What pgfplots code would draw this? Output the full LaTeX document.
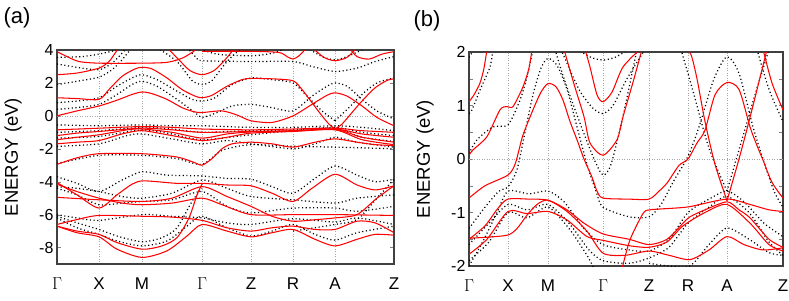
\documentclass[border=0pt]{standalone}
\usepackage{fontspec}
\setmainfont{Liberation Sans}
\usepackage{pgfplots}
\pgfplotsset{compat=1.18}
\pgfplotsset{
  bandr/.style={red, line width=1.05pt, smooth, tension=0.45, no markers},
  bandk/.style={black, line width=1.25pt, dash pattern=on 1.1pt off 2.6pt, smooth, tension=0.45, no markers},
  bandaxis/.style={
    anchor=south west, scale only axis, height=214pt,
    axis line style={black!75, line width=1.1pt},
    tick align=inside, major tick length=4pt,
    major x tick style={draw=none},
    xmajorgrids, grid style={gray!70, line width=0.5pt, dotted},
    extra y ticks={0}, extra y tick labels={},
    extra y tick style={grid=major, major tick length=0pt},
    /pgf/number format/assume math mode=true,
    yticklabel style={font=\fontsize{16}{18}\selectfont},
    xticklabel style={font=\fontsize{17}{19}\selectfont, yshift=-10pt},
    label style={font=\fontsize{18.5}{20}\selectfont},
    ylabel={ENERGY (eV)},
  }
}
\begin{document}
\begin{tikzpicture}
\useasboundingbox (0pt,0pt) rectangle (789pt,300pt);
\node[font=\fontsize{22}{24}\selectfont] at (17pt,282pt) {(a)};
\node[font=\fontsize{22}{24}\selectfont] at (427pt,279pt) {(b)};
% ---------------- panel (a) ----------------
\begin{axis}[bandaxis, at={(57pt,36pt)}, width=337pt,
  xmin=0, xmax=337, ymin=-9, ymax=4,
  xtick={0,42,85,145,194,236,278,337},
  xticklabels={$\Gamma$,X,M,$\Gamma$,Z,R,A,Z},
  ytick={-8,-6,-4,-2,0,2,4},
  ylabel style={at={(axis description cs:-0.13,0.5)}, anchor=center},
]
% dotted (black) bands
\addplot[bandk] coordinates {(0,3.55)(25,3.6)(42,3.75)(60,4.0)(70,4.15)};
\addplot[bandk] coordinates {(0,3.15)(20,2.95)(42,2.8)(55,3.2)(65,3.8)(70,4.15)};
\addplot[bandk] coordinates {(0,1.9)(20,2.1)(42,2.35)(55,2.8)(65,3.4)(75,4.15)};
\addplot[bandk] coordinates {(0,0.8)(20,0.9)(42,1.1)(60,1.8)(75,2.3)(85,2.5)(100,2.2)(120,1.5)(135,1.0)(145,0.9)(158,1.1)(175,1.9)(194,2.3)(215,2.2)(236,2.0)(250,1.2)(265,0.3)(278,-0.3)};
\addplot[bandk] coordinates {(278,-0.3)(292,0.5)(305,1.3)(320,2.0)(337,2.3)};
\addplot[bandk] coordinates {(0,0.4)(20,0.5)(42,0.7)(60,1.3)(75,1.9)(85,2.1)(100,1.8)(120,1.0)(138,0.2)(145,-0.1)(160,0.2)(175,0.6)(194,0.7)(215,0.5)(236,0.3)(255,1.2)(270,1.8)(278,2.0)(290,1.8)(305,1.0)(320,0.3)(337,-0.2)};
\addplot[bandk] coordinates {(130,4.15)(140,3.5)(145,3.35)(194,3.3)(236,3.3)(255,3.0)(278,2.7)(300,2.9)(318,3.3)(337,3.6)};
\addplot[bandk] coordinates {(100,4.15)(120,3.3)(135,2.15)(145,1.9)(155,2.15)(170,3.3)(185,4.15)};
\addplot[bandk] coordinates {(140,4.15)(160,3.75)(194,3.65)(215,3.8)(230,4.15)};
\addplot[bandk] coordinates {(250,4.15)(265,3.6)(278,3.4)(290,3.6)(310,4.15)};
\addplot[bandk] coordinates {(0,-0.55)(42,-0.6)(85,-0.55)(115,-0.6)(145,-0.6)(194,-0.7)(236,-0.7)(278,-0.6)(305,-0.7)(337,-0.9)};
\addplot[bandk] coordinates {(0,-1.0)(42,-0.9)(85,-0.7)(115,-0.8)(145,-1.0)(194,-0.9)(236,-0.85)(278,-0.7)(305,-1.0)(337,-1.2)};
\addplot[bandk] coordinates {(0,-1.35)(42,-1.25)(85,-0.85)(115,-1.1)(145,-1.45)(194,-1.15)(236,-0.9)(278,-0.75)(305,-1.3)(337,-1.55)};
\addplot[bandk] coordinates {(0,-1.85)(42,-1.7)(70,-1.2)(85,-1.1)(115,-1.4)(145,-1.7)(170,-1.5)(194,-1.7)(236,-2.0)(258,-1.7)(278,-1.3)(300,-1.6)(337,-1.9)};
\addplot[bandk] coordinates {(0,-2.9)(42,-2.4)(85,-2.4)(120,-2.6)(145,-2.95)(165,-2.1)(194,-1.75)(236,-1.85)(278,-1.9)(337,-2.0)};
\addplot[bandk] coordinates {(0,-3.7)(20,-4.1)(42,-4.6)(65,-3.9)(85,-3.4)(110,-3.6)(145,-3.65)(170,-3.8)(194,-3.85)(215,-4.3)(236,-4.7)(258,-3.8)(278,-3.05)(300,-3.6)(318,-4.0)(337,-3.85)};
\addplot[bandk] coordinates {(0,-4.3)(20,-4.4)(42,-4.6)(65,-4.9)(85,-5.0)(115,-4.7)(145,-3.9)(170,-4.4)(194,-4.9)(236,-5.1)(278,-5.3)(300,-5.0)(337,-4.8)};
\addplot[bandk] coordinates {(0,-4.4)(20,-4.8)(42,-5.4)(65,-5.3)(85,-5.2)(115,-5.1)(145,-4.6)(170,-5.5)(194,-5.9)(236,-5.6)(278,-5.6)(300,-5.8)(337,-5.5)};
\addplot[bandk] coordinates {(0,-6.0)(20,-6.2)(42,-6.35)(85,-6.0)(115,-6.1)(145,-6.2)(170,-6.5)(194,-6.6)(236,-6.25)(278,-6.45)(300,-6.2)(337,-6.6)};
\addplot[bandk] coordinates {(0,-6.1)(20,-6.5)(42,-6.9)(60,-7.3)(85,-7.65)(105,-7.4)(120,-6.8)(135,-5.2)(145,-4.4)};
\addplot[bandk] coordinates {(0,-6.2)(20,-6.8)(42,-7.2)(60,-7.6)(85,-7.9)(110,-7.6)(130,-6.7)(145,-6.1)(170,-6.8)(194,-7.3)(215,-7.0)(236,-6.6)(258,-7.2)(278,-7.55)(300,-7.1)(337,-6.7)};
\addplot[bandk] coordinates {(236,-7.0)(278,-6.6)(300,-6.3)(320,-5.0)(337,-3.85)};
% red bands
\addplot[bandr] coordinates {(0,3.9)(10,3.6)(22,3.3)(42,3.2)(85,3.2)(110,3.25)(125,3.5)(135,3.85)(142,4.15)};
\addplot[bandr] coordinates {(145,3.92)(194,3.92)(222,3.85)(230,3.6)(236,3.45)(242,3.65)(250,4.15)};
\addplot[bandr] coordinates {(0,2.5)(20,2.6)(42,2.9)(52,3.3)(58,3.8)(62,4.15)};
\addplot[bandr] coordinates {(110,4.15)(122,3.4)(133,2.75)(145,2.5)(157,2.75)(168,3.4)(178,4.15)};
\addplot[bandr] coordinates {(0,1.1)(20,1.05)(42,1.0)(52,1.6)(65,2.4)(78,2.85)(85,2.95)(95,2.85)(110,2.3)(125,1.6)(138,1.2)(145,1.1)(155,1.25)(170,1.8)(185,2.2)(194,2.27)(215,2.25)(236,2.13)(245,1.6)(255,0.8)(265,0.0)(272,-0.5)(278,-0.8)};
\addplot[bandr] coordinates {(278,-0.8)(285,-0.5)(295,0.2)(305,0.9)(318,1.7)(330,2.15)(337,2.25)};
\addplot[bandr] coordinates {(0,0.0)(20,0.3)(42,0.6)(60,0.95)(75,1.3)(85,1.45)(95,1.35)(110,1.0)(125,0.5)(137,0.25)(145,0.2)(165,0.3)(180,0.05)(194,-0.3)(215,-0.4)(236,0.0)(255,0.7)(270,1.25)(278,1.4)(290,1.2)(305,0.6)(320,-0.1)(337,-0.6)};
\addplot[bandr] coordinates {(255,4.15)(267,3.55)(278,3.35)(290,3.55)(300,4.15)};
\addplot[bandr] coordinates {(292,4.15)(300,3.6)(312,3.45)(325,3.75)(337,3.9)};
\addplot[bandr] coordinates {(0,-0.85)(42,-0.75)(85,-0.65)(115,-0.7)(145,-0.8)(194,-0.85)(236,-0.8)(278,-0.75)(305,-0.9)(337,-1.0)};
\addplot[bandr] coordinates {(0,-1.2)(20,-1.05)(42,-0.95)(85,-0.75)(115,-0.85)(145,-1.0)(194,-0.95)(236,-0.9)(278,-0.8)(305,-1.1)(337,-1.3)};
\addplot[bandr] coordinates {(0,-1.45)(20,-1.3)(42,-1.15)(70,-0.85)(85,-0.8)(115,-1.0)(145,-1.35)(170,-1.1)(194,-0.98)(236,-0.92)(278,-0.82)(305,-1.3)(337,-1.6)};
\addplot[bandr] coordinates {(0,-1.7)(20,-1.6)(42,-1.5)(65,-1.1)(85,-0.9)(115,-1.2)(145,-1.5)(170,-1.3)(194,-1.05)(236,-0.95)(278,-0.85)(305,-1.45)(337,-1.75)};
\addplot[bandr] coordinates {(0,-2.95)(20,-2.55)(42,-2.3)(85,-2.3)(120,-2.5)(138,-2.85)(145,-3.0)(155,-2.6)(165,-2.0)(175,-1.7)(194,-1.6)(215,-1.7)(236,-1.9)(258,-1.6)(278,-1.4)(300,-1.6)(318,-1.75)(337,-1.8)};
\addplot[bandr] coordinates {(0,-4.05)(20,-4.8)(42,-5.6)(60,-4.8)(75,-4.15)(85,-3.95)(100,-4.0)(120,-4.1)(145,-4.1)(170,-4.2)(194,-4.25)(215,-4.7)(236,-5.2)(255,-4.4)(278,-3.55)(300,-4.2)(318,-4.5)(337,-4.25)};
\addplot[bandr] coordinates {(0,-4.15)(20,-4.6)(42,-5.0)(65,-5.3)(85,-5.4)(115,-5.3)(145,-5.0)(165,-5.4)(194,-6.0)(236,-6.0)(278,-6.0)(337,-6.05)};
\addplot[bandr] coordinates {(0,-4.95)(42,-5.1)(85,-5.2)(115,-5.0)(145,-4.3)(170,-4.9)(194,-5.5)(215,-6.1)(236,-6.4)(260,-6.3)(278,-6.2)(300,-6.0)(320,-5.0)(337,-4.25)};
\addplot[bandr] coordinates {(0,-6.6)(20,-6.3)(42,-6.05)(85,-6.1)(115,-6.15)(145,-6.35)(170,-6.8)(194,-7.0)(215,-6.8)(236,-6.7)(258,-6.9)(278,-6.9)(300,-6.4)(318,-6.5)(337,-7.1)};
\addplot[bandr] coordinates {(0,-6.7)(20,-7.0)(42,-7.2)(60,-7.7)(85,-8.1)(105,-7.9)(120,-7.4)(132,-6.2)(140,-4.8)(145,-4.15)};
\addplot[bandr] coordinates {(0,-6.7)(20,-7.1)(42,-7.35)(60,-8.1)(85,-8.6)(110,-8.2)(130,-7.3)(145,-6.6)(170,-7.0)(194,-7.35)(215,-7.1)(236,-6.9)(258,-7.5)(278,-7.9)(300,-7.5)(318,-7.2)(337,-7.25)};
\end{axis}
% ---------------- panel (b) ----------------
\begin{axis}[bandaxis, at={(469pt,34pt)}, width=314pt,
  xmin=0, xmax=314, ymin=-2, ymax=2,
  xtick={0,39,79,134,180,219,258,314},
  xticklabels={$\Gamma$,X,M,$\Gamma$,Z,R,A,Z},
  ytick={-2,-1.5,-1,-0.5,0,0.5,1,1.5,2},
  yticklabels={-2,,-1,,0,,1,,2},
  ylabel style={at={(axis description cs:-0.14,0.5)}, anchor=center},
]
% dotted
\addplot[bandk] coordinates {(0,1.9)(5,2.05)};
\addplot[bandk] coordinates {(0,0.85)(3,0.92)(11,1.29)(21,1.72)(24,2.05)};
\addplot[bandk] coordinates {(0,0.1)(8,0.36)(24,0.6)(39,0.64)(51,1.1)(58,1.54)(64,2.05)};
\addplot[bandk] coordinates {(0,-1.3)(16,-0.9)(30,-0.6)(39,-0.52)(48,-0.2)(56,0.5)(64,1.2)(72,1.7)(79,1.88)(88,1.75)(98,1.3)(108,0.6)(118,-0.1)(127,-0.6)(134,-0.9)(160,-1.08)(180,-1.08)(192,-0.85)(205,-0.4)(219,0.05)(230,0.6)(245,1.5)(258,1.91)(270,1.6)(284,0.6)(294,0.0)(305,-0.6)(314,-0.9)};
\addplot[bandk] coordinates {(108,2.05)(122,1.9)(134,1.85)(146,1.9)(160,2.05)};
\addplot[bandk] coordinates {(92,2.05)(110,1.3)(124,0.95)(134,0.85)(144,1.0)(158,1.5)(176,2.05)};
\addplot[bandk] coordinates {(86,2.05)(95,1.5)(111,0.67)(125,0.0)(134,-0.3)(142,-0.1)(154,0.8)(168,2.05)};
\addplot[bandk] coordinates {(288,2.05)(300,1.3)(314,0.7)};
\addplot[bandk] coordinates {(212,2.05)(225,1.2)(240,0.2)(258,-0.6)};
\addplot[bandk] coordinates {(258,-0.6)(272,0.3)(286,1.2)(300,2.05)};
\addplot[bandk] coordinates {(0,-2.0)(15,-1.5)(28,-1.0)(39,-0.6)(60,-0.65)(79,-0.6)(95,-0.8)(115,-1.3)(134,-1.6)(160,-1.7)(180,-1.72)(200,-1.5)(219,-1.0)(240,-0.75)(258,-0.6)(275,-0.8)(295,-1.2)(314,-1.45)};
\addplot[bandk] coordinates {(0,-1.6)(20,-1.2)(39,-0.85)(58,-0.95)(79,-0.85)(100,-1.2)(120,-1.7)(134,-1.9)(160,-1.95)(180,-1.85)(200,-1.65)(219,-1.2)(240,-0.9)(258,-0.7)(280,-1.0)(300,-1.55)(314,-1.8)};
\addplot[bandk] coordinates {(0,-1.9)(20,-1.55)(39,-1.0)(58,-1.1)(79,-0.9)(100,-1.3)(118,-1.8)(125,-2.05)};
\addplot[bandk] coordinates {(180,-1.95)(200,-2.0)(221,-2.0)(240,-1.6)(258,-1.29)(280,-1.5)(300,-1.75)(314,-1.8)};
% red
\addplot[bandr] coordinates {(0,1.07)(5,1.2)(11,1.42)(15,1.7)(18,2.05)};
\addplot[bandr] coordinates {(0,0.07)(4,0.17)(18,0.42)(31,0.92)(38,0.98)(44,0.98)(54,1.35)(60,1.7)(63,2.05)};
\addplot[bandr] coordinates {(0,-0.73)(16,-0.5)(39,-0.3)(46,-0.1)(50,0.17)(54,0.45)(64,0.92)(72,1.25)(79,1.41)(87,1.35)(94,1.1)(101,0.7)(108,0.36)(115,0.0)(123,-0.34)(128,-0.6)(134,-0.73)(160,-0.75)(180,-0.75)(190,-0.6)(198,-0.45)(210,-0.12)(219,0.0)(228,0.3)(236,0.54)(246,1.2)(258,1.43)(270,1.3)(281,0.6)(288,0.25)(294,-0.02)(302,-0.4)(308,-0.58)(314,-0.73)};
\addplot[bandr] coordinates {(116,2.05)(121,1.72)(128,1.2)(134,1.07)(143,1.25)(154,1.72)(171,2.05)};
\addplot[bandr] coordinates {(95,2.05)(105,1.4)(115,0.79)(121,0.3)(134,0.07)(148,0.36)(154,0.79)(165,1.5)(173,2.05)};
\addplot[bandr] coordinates {(294,2.05)(303,1.42)(314,0.92)};
\addplot[bandr] coordinates {(216,2.05)(222,1.95)(228,1.5)(236,0.7)(246,-0.1)(258,-0.78)};
\addplot[bandr] coordinates {(258,-0.78)(270,0.0)(282,0.85)(298,2.05)};
\addplot[bandr] coordinates {(0,-1.5)(16,-1.25)(29,-0.92)(39,-0.75)(60,-0.75)(79,-0.77)(98,-0.95)(115,-1.2)(134,-1.4)(160,-1.5)(180,-1.6)(198,-1.5)(214,-1.2)(221,-1.08)(236,-0.95)(258,-0.8)(270,-0.95)(281,-1.1)(300,-1.5)(314,-1.65)};
\addplot[bandr] coordinates {(0,-1.78)(18,-1.5)(39,-0.98)(58,-1.02)(79,-0.98)(98,-1.14)(118,-1.45)(134,-1.52)(160,-1.62)(180,-1.65)(198,-1.55)(214,-1.25)(236,-1.0)(258,-0.85)(281,-1.2)(300,-1.6)(314,-1.72)};
\addplot[bandr] coordinates {(0,-1.48)(20,-1.46)(39,-1.42)(48,-1.3)(58,-1.05)(68,-0.85)(79,-0.77)(98,-0.98)(118,-1.35)(134,-1.76)(156,-1.8)(180,-1.72)(200,-1.8)(221,-1.88)(240,-1.7)(258,-1.45)(275,-1.6)(294,-1.7)(314,-1.66)};
\addplot[bandr] coordinates {(153,-2.05)(161,-1.51)(174,-1.02)(181,-0.95)(204,-0.92)(221,-0.89)(258,-0.75)(281,-0.85)(300,-0.95)(314,-0.98)};
\end{axis}
\end{tikzpicture}
\end{document}
